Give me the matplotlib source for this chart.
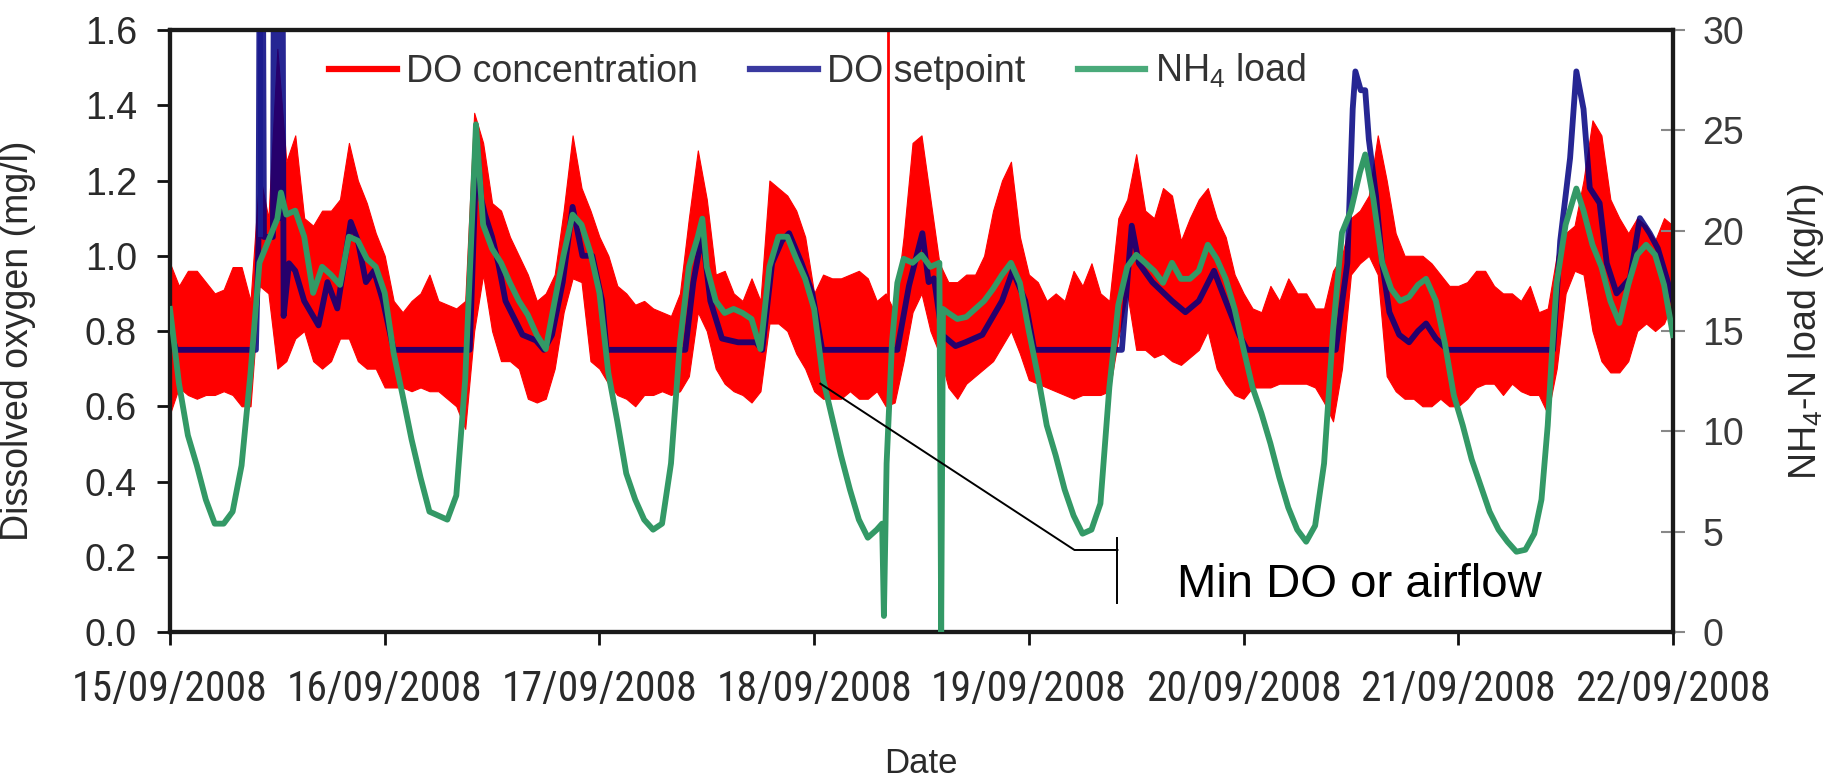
import numpy as np
import matplotlib
matplotlib.use("Agg")
import matplotlib.pyplot as plt
from matplotlib.lines import Line2D
from matplotlib import font_manager

# ---------------- data (hours since 15/09/2008 00:00) ----------------
date_labels = ["15/09/2008", "16/09/2008", "17/09/2008", "18/09/2008",
               "19/09/2008", "20/09/2008", "21/09/2008", "22/09/2008"]
date_ticks_h = [0, 24, 48, 72, 96, 120, 144, 168]

red_hours = list(range(169))
red_hi = [0.98, 0.92, 0.96, 0.96, 0.93, 0.90, 0.91, 0.97, 0.97, 0.88,
          1.22, 1.10, 1.55, 1.25, 1.32, 1.10, 1.08, 1.12, 1.12, 1.15,
          1.30, 1.20, 1.14, 1.06, 1.00, 0.88, 0.85, 0.88, 0.90, 0.95,
          0.88, 0.87, 0.86, 0.88, 1.38, 1.30, 1.14, 1.12, 1.05, 1.00,
          0.95, 0.88, 0.90, 0.95, 1.12, 1.32, 1.18, 1.12, 1.05, 1.00,
          0.92, 0.90, 0.87, 0.88, 0.86, 0.85, 0.84, 0.90, 1.10, 1.28,
          1.15, 0.95, 0.96, 0.90, 0.88, 0.94, 0.88, 1.20, 1.18, 1.16,
          1.12, 1.05, 0.90, 0.95, 0.94, 0.94, 0.95, 0.96, 0.94, 0.88,
          0.90, 0.85, 1.05, 1.30, 1.32, 1.15, 0.98, 0.93, 0.93, 0.95,
          0.95, 1.00, 1.12, 1.20, 1.25, 1.05, 0.95, 0.93, 0.88, 0.90,
          0.88, 0.96, 0.92, 0.98, 0.90, 0.88, 1.10, 1.15, 1.27, 1.12,
          1.10, 1.18, 1.16, 1.04, 1.10, 1.15, 1.18, 1.10, 1.05, 0.95,
          0.90, 0.86, 0.85, 0.92, 0.88, 0.94, 0.90, 0.90, 0.86, 0.86,
          0.96, 1.00, 1.10, 1.12, 1.16, 1.32, 1.20, 1.06, 1.00, 1.00,
          1.00, 0.98, 0.95, 0.92, 0.92, 0.93, 0.96, 0.96, 0.92, 0.90,
          0.90, 0.88, 0.92, 0.85, 0.86, 1.00, 1.06, 1.08, 1.20, 1.36,
          1.32, 1.15, 1.10, 1.06, 1.10, 1.08, 1.04, 1.10, 1.08]
red_lo = [0.58, 0.65, 0.63, 0.62, 0.63, 0.63, 0.64, 0.63, 0.60, 0.60,
          0.92, 0.90, 0.70, 0.72, 0.78, 0.80, 0.72, 0.70, 0.72, 0.78,
          0.78, 0.72, 0.70, 0.70, 0.65, 0.65, 0.65, 0.64, 0.65, 0.64,
          0.64, 0.62, 0.60, 0.54, 0.80, 0.95, 0.80, 0.72, 0.72, 0.70,
          0.62, 0.61, 0.62, 0.70, 0.85, 0.94, 0.93, 0.72, 0.70, 0.66,
          0.63, 0.62, 0.60, 0.63, 0.63, 0.64, 0.63, 0.64, 0.68, 0.85,
          0.80, 0.70, 0.66, 0.64, 0.63, 0.61, 0.64, 0.82, 0.82, 0.80,
          0.74, 0.70, 0.64, 0.62, 0.62, 0.62, 0.64, 0.62, 0.62, 0.64,
          0.60, 0.61, 0.72, 0.85, 0.90, 0.80, 0.74, 0.65, 0.62, 0.66,
          0.68, 0.70, 0.72, 0.76, 0.80, 0.74, 0.67, 0.66, 0.65, 0.64,
          0.63, 0.62, 0.63, 0.63, 0.63, 0.64, 0.78, 0.90, 0.75, 0.75,
          0.73, 0.74, 0.72, 0.71, 0.73, 0.75, 0.80, 0.70, 0.66, 0.63,
          0.62, 0.65, 0.65, 0.65, 0.66, 0.66, 0.66, 0.66, 0.65, 0.61,
          0.56, 0.70, 0.95, 0.98, 1.00, 0.95, 0.68, 0.64, 0.62, 0.62,
          0.60, 0.60, 0.62, 0.60, 0.60, 0.62, 0.65, 0.66, 0.66, 0.63,
          0.66, 0.64, 0.63, 0.63, 0.58, 0.70, 0.90, 0.96, 0.95, 0.80,
          0.72, 0.69, 0.69, 0.72, 0.80, 0.82, 0.80, 0.82, 0.88]
red_spike_hours = [80.3, 80.3]
red_spike_do = [0.85, 1.70]

blue_hours = [0, 0.7, 9.6, 9.9, 10.0, 10.4, 10.5, 11.5, 11.6, 11.8,
              11.9, 12.3, 12.4, 12.6, 12.7, 13.3, 14.0, 15.0, 16.6, 17.6,
              18.7, 20.2, 21.0, 21.9, 22.8, 23.8, 25.0, 33.5, 34.3, 34.8,
              35.2, 36.0, 36.7, 37.5, 39.4, 40.9, 41.8, 42.7, 43.9, 45.0,
              46.1, 47.2, 48.3, 48.8, 57.6, 58.5, 59.5, 60.4, 61.7, 63.5,
              65.5, 66.2, 67.3, 68.4, 69.2, 70.6, 71.8, 72.9, 81.3, 82.6,
              84.1, 84.8, 85.4, 86.3, 87.8, 88.9, 90.8, 93.0, 94.2, 95.6,
              96.6, 106.4, 107.5, 108.3, 109.8, 112.0, 113.5, 115.0, 116.7, 118.0,
              119.5, 120.4, 130.3, 131.6, 132.2, 132.5, 133.1, 133.6, 134.0, 134.8,
              135.5, 136.3, 137.4, 138.5, 139.5, 140.4, 141.5, 142.8, 154.6, 155.4,
              156.5, 157.2, 158.0, 158.7, 159.8, 160.6, 161.7, 163.2, 164.3, 165.4,
              166.3, 167.3, 168]
blue_do = [0.80, 0.75, 0.75, 1.05, 1.70, 1.70, 1.05, 1.05, 1.70, 1.70,
           1.10, 1.10, 1.70, 1.70, 0.84, 0.98, 0.96, 0.88, 0.815, 0.93,
           0.86, 1.09, 1.04, 0.93, 0.96, 0.88, 0.75, 0.75, 1.30, 1.15,
           1.11, 1.05, 0.98, 0.88, 0.79, 0.775, 0.75, 0.79, 0.93, 1.13,
           1.00, 1.00, 0.88, 0.75, 0.75, 0.93, 1.06, 0.88, 0.78, 0.77,
           0.77, 0.75, 0.98, 1.04, 1.06, 0.98, 0.90, 0.75, 0.75, 0.92,
           1.06, 0.93, 0.94, 0.79, 0.76, 0.77, 0.79, 0.88, 0.96, 0.88,
           0.75, 0.75, 1.08, 0.98, 0.93, 0.88, 0.85, 0.88, 0.96, 0.88,
           0.79, 0.75, 0.75, 0.98, 1.39, 1.49, 1.44, 1.44, 1.31, 1.16,
           0.98, 0.85, 0.79, 0.77, 0.80, 0.82, 0.78, 0.75, 0.75, 1.04,
           1.26, 1.49, 1.39, 1.18, 1.14, 0.98, 0.90, 0.94, 1.10, 1.06,
           1.02, 0.94, 0.88]
blue_shade_hours = [9.8, 10.4]
blue_shade_lo = [1.05, 1.05]
blue_shade_hi = [1.70, 1.70]

green_hours = [0, 1, 2, 3, 4, 5, 6, 7, 8, 9, 10, 11, 12, 12.4,
               13, 14, 15, 16, 17, 18, 19, 20, 21, 22, 23, 24, 25, 26, 27, 28, 29, 30, 31, 32, 33,
               33.6, 34.2,
               35, 36, 37, 38, 39, 40, 41, 42, 43, 44, 45, 46, 47, 48, 49, 50, 51, 52, 53, 54, 55,
               56, 57, 58, 59, 59.5,
               60, 61, 62, 63, 64, 65, 66, 67, 68, 69, 70, 71, 72, 73, 74, 75, 76, 77, 78, 79,
               79.6, 79.8, 80.1, 80.7, 81.3,
               82, 83, 84, 85, 86, 86.2, 86.4,
               87, 88, 89, 90, 91, 92, 93, 94, 95, 96, 97, 98, 99, 100, 101, 102, 103, 104, 105,
               106, 107, 108, 109, 110, 111, 112, 113, 114, 115, 116, 117, 118, 119, 120, 121,
               122, 123, 124, 125, 126, 127, 128, 129, 130, 131, 132, 133, 133.6,
               134.5, 135.5, 136.5, 137.5, 138.5, 139.5, 140.4, 141.5, 142.5, 143.5, 144.5,
               145.5, 146.5, 147.5, 148.5, 149.5, 150.5, 151.5, 152.5, 153.3,
               154, 154.5, 155, 156, 157.2, 158,
               159, 160, 161, 162, 163, 164, 165, 166, 167, 168]
green_nh4 = [16.1, 12.4, 9.8, 8.3, 6.6, 5.4, 5.4, 6.0, 8.3, 12.9, 18.4, 19.5, 20.6, 21.9,
             20.8, 21.0, 19.7, 16.9, 18.2, 17.8, 17.3, 19.7, 19.5, 18.6, 18.2, 16.9, 13.9, 11.8,
             9.6, 7.7, 6.0, 5.8, 5.6, 6.8, 12.6,
             18.8, 25.3,
             20.3, 19.1, 18.4, 17.4, 16.5, 15.8, 14.8, 14.1, 16.5, 18.8, 20.8, 20.3, 18.9, 16.9,
             12.9, 10.5, 7.9, 6.6, 5.6, 5.1, 5.4, 8.4, 14.4, 18.2, 19.7, 20.6,
             18.2, 16.5, 15.9, 16.1, 15.9, 15.6, 14.1, 18.2, 19.7, 19.7, 18.6, 17.6, 16.1, 12.6,
             10.7, 8.8, 7.1, 5.6, 4.7, 5.1,
             5.4, 0.8, 8.4, 14.4, 17.4,
             18.6, 18.4, 18.8, 18.2, 18.4, 0.0, 16.1,
             15.9, 15.6, 15.7, 16.1, 16.5, 17.1, 17.8, 18.4, 17.4, 15.0, 12.8, 10.3, 8.8, 7.1,
             5.8, 4.9, 5.1, 6.4, 12.2, 16.3, 18.2, 18.8, 18.4, 18.0, 17.4, 18.4, 17.6, 17.6,
             18.0, 19.3, 18.6, 17.6, 16.1, 14.1, 12.2, 10.9, 9.4, 7.7, 6.2, 5.1, 4.5, 5.3, 8.4,
             15.0, 19.9, 21.0, 22.9, 23.8,
             21.6, 18.4, 17.1, 16.5, 16.7, 17.3, 17.6, 16.5, 14.4, 11.8, 10.3, 8.6, 7.3, 6.0,
             5.1, 4.5, 4.0, 4.1, 4.9, 6.6,
             10.3, 14.1, 17.4, 20.3, 22.1, 21.0,
             19.3, 18.2, 16.5, 15.4, 17.3, 18.8, 19.3, 18.8, 17.3, 14.8]

# annotation leader (hours, DO)
note_line_h = [72.7, 101.1, 105.9]
note_line_do = [0.66, 0.218, 0.218]
note_bar_h = [105.9, 105.9]
note_bar_do = [0.25, 0.077]
note_text = "Min DO or airflow"

# ---------------- fonts ----------------
def first_font(names):
    for n in names:
        try:
            font_manager.findfont(font_manager.FontProperties(family=n),
                                  fallback_to_default=False)
            return n
        except Exception:
            pass
    return None

BASE = "Liberation Sans"
narrow = first_font(["Liberation Sans Narrow", "Roboto Condensed",
                     "DejaVu Sans Condensed"])
plt.rcParams["font.family"] = [BASE, "DejaVu Sans"]
plt.rcParams["mathtext.fontset"] = "custom"
plt.rcParams["mathtext.rm"] = BASE
plt.rcParams["mathtext.default"] = "regular"

RED = "#ff0000"
NAVY = "#000080"
GREEN = "#339966"
TXT = "#2a2a2a"

fig = plt.figure(figsize=(18.26, 7.82), dpi=100)
ax = fig.add_axes([0.0931, 0.1918, 0.8231, 0.7698])
ax2 = ax.twinx()

ax.fill_between(red_hours, red_lo, red_hi, color=RED, lw=0.8,
                edgecolor=RED, zorder=1)
ax.plot(red_spike_hours, red_spike_do, color=RED, lw=2.0, zorder=1)
ax.fill_between(blue_shade_hours, blue_shade_lo, blue_shade_hi, color="#b8b8e0", lw=0, zorder=2)
ax.plot(blue_hours, blue_do, color=NAVY, lw=4.2, alpha=0.85, zorder=3)

ax2.plot(green_hours, green_nh4, color=GREEN, lw=4.2, zorder=4)
ax2.plot(note_line_h, note_line_do, color="black", lw=1.4, transform=ax.transData, zorder=6)
ax2.plot(note_bar_h, note_bar_do, color="black", lw=1.4, transform=ax.transData, zorder=6)
ax2.text(112.6, 0.093, note_text, transform=ax.transData, fontsize=34,
         color="black", ha="left", va="baseline", zorder=7)

ax.set_xlim(0, 168)
ax.set_ylim(0, 1.6)
ax2.set_ylim(0, 30)
ax.set_xticks(date_ticks_h)
ax.set_xticklabels(date_labels)
ax.set_yticks(np.arange(0, 1.61, 0.2))
ax.set_yticklabels([f"{v:.1f}" for v in np.arange(0, 1.61, 0.2)])
ax2.set_yticks([0, 5, 10, 15, 20, 25, 30])

ax.tick_params(axis="x", direction="out", length=9.4, width=2, pad=17.5,
               labelcolor=TXT, color="#111")
ax.tick_params(axis="y", direction="out", length=9.4, width=2, pad=14.4,
               labelsize=27, labelcolor=TXT, color="#111")
ax2.tick_params(axis="y", direction="inout", length=17, width=1.5, pad=12.5,
                labelsize=27, labelcolor="#3a3a3a", color="#888")
for lab in ax.get_xticklabels():
    if narrow:
        lab.set_family([narrow, "DejaVu Sans"])
        lab.set_fontsize(30)
    else:
        lab.set_fontsize(26.5)

for a in (ax, ax2):
    for s in a.spines.values():
        s.set_linewidth(3)
        s.set_color("#1a1a1a")

ax.set_ylabel("Dissolved oxygen (mg/l)", fontsize=27, color=TXT)
ax.yaxis.set_label_coords(-0.089, 0.484)
ax2.set_ylabel("NH$_4$-N load (kg/h)", fontsize=27, color=TXT)
ax2.yaxis.set_label_coords(1.075, 0.5)
fig.text(0.5045, 0.0115, "Date", fontsize=25, color=TXT, ha="center", va="baseline")

handles = [Line2D([], [], color=RED, lw=4.5),
           Line2D([], [], color="#3a3aa0", lw=4.5),
           Line2D([], [], color="#4aaa7a", lw=4.5)]
labels = ["DO concentration", "DO setpoint", "NH$_4$ load"]
leg = ax2.legend(handles, labels, ncol=3, frameon=False, loc="upper left",
                 bbox_to_anchor=(0.1058, 0.964), borderpad=0, borderaxespad=0,
                 handlelength=1.8, handletextpad=0.25, columnspacing=1.4,
                 prop={"size": 27})
for t in leg.get_texts():
    t.set_color("#333333")

fig.savefig("out.png", dpi=100, facecolor="white")
